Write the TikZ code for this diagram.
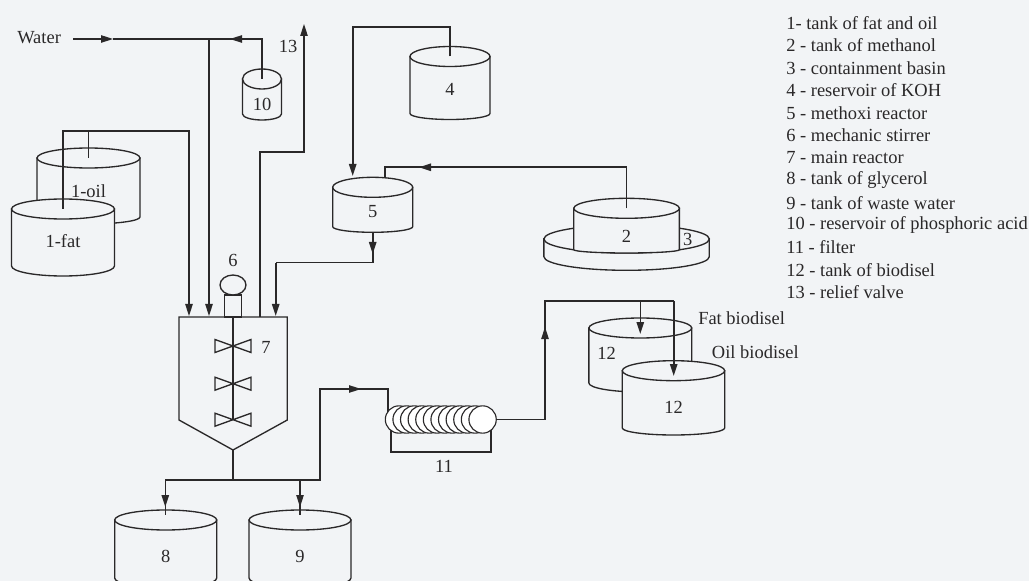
\documentclass[tikz,border=0pt]{standalone}
\usepackage{fontspec}
\setmainfont{Liberation Serif}
\usetikzlibrary{arrows.meta}
\definecolor{paper}{HTML}{F2F4F6}
\definecolor{ink}{HTML}{2A2829}
% name, centre x, top y, half width, side end y, sag, label y
\newcommand{\tank}[7]{
	\filldraw[tankline] ({#2-#4},#3) -- ({#2-#4},#5) arc[start angle=180,end angle=0,x radius=#4,y radius=#6] -- ({#2+#4},#3) -- cycle;
	\filldraw[tankline] (#2,#3) ellipse [x radius=#4,y radius=10];
	\coordinate (#1) at (#2,#3);
	\node[lab] (#1-lab) at (#2,#7) {};
}
\begin{document}
\begin{tikzpicture}[
	x=0.75pt, y=-0.75pt,
	lab/.style={ ink, font=\fontsize{13.85}{16}\selectfont, inner sep=0pt },
	pipe/.style={ ink, line width=1.2pt },
	flow/.style={ pipe, -{Triangle[length=9pt,width=5.5pt]} },
	tankline/.style={ draw=ink, fill=paper, line width=1pt },
	disc/.style={ circle, draw=ink, fill=white, line width=0.85pt, inner sep=0pt, minimum size=20.5pt }
]
	\useasboundingbox (0,0) rectangle (1029,581);
	\fill[paper] (0,0) rectangle (1029,581);

	% feed tanks
	\tank{oil}{88.5}{158}{51.5}{217}{7}{191}
	\node[lab] at (oil-lab) {1-oil};
	\tank{fat}{63}{209}{51.5}{266}{10}{241}
	\node[lab] at (fat-lab) {1-fat};
	\tank{koh}{450}{56.5}{40}{113.5}{6}{89}
	\node[lab] at (koh-lab) {4};
	\tank{acid}{262}{79}{19.5}{114}{6}{104}
	\node[lab] at (acid-lab) {10};
	\tank{metox}{372.7}{187.3}{40}{226.7}{5.6}{212}
	\node[lab] at (metox-lab) {5};

	% methanol in its basin
	\tank{basin}{626.6}{239}{82.7}{256.7}{13.6}{239}
	\filldraw[tankline] (626.6,239) ellipse [x radius=82.7,y radius=14];
	\node[lab] at (687.7,239) {3};
	\filldraw[tankline] (573.8,208.3) -- (573.8,249.7) arc[start angle=180,end angle=0,x radius=52.8,y radius=3.3] -- (679.4,208.3) -- cycle;
	\filldraw[tankline] (626.6,208.3) ellipse [x radius=52.8,y radius=10];
	\coordinate (meth) at (626.6,208.3);
	\node[lab] at (626.6,236) {2};

	% main reactor
	\draw[tankline] (179,317) -- (287.3,317) -- (287.3,420) -- (233,450) -- (179,420) -- cycle;
	\coordinate (reactor) at (233,450);
	\draw[tankline] (224.3,295) rectangle (241.7,317);
	\draw[tankline] (233,285) ellipse [x radius=13,y radius=10];
	\draw[pipe] (233,317) -- (233,420);
	\foreach \y in {346,383.7,419.7} {
		\draw[tankline] (215,\y-6.5) -- (251,\y+6.5) -- (251,\y-6.5) -- (215,\y+6.5) -- cycle;
	}
	\node[lab] at (233,260) {6};
	\node[lab] at (266,347) {7};
	\node[lab] at (288,46) {13};

	% lower tanks
	\tank{glyc}{165.7}{520}{51}{578}{10}{556}
	\node[lab] at (glyc-lab) {8};
	\tank{waste}{300}{520}{51}{578}{10}{556}
	\node[lab] at (waste-lab) {9};
	\tank{fatbio}{640.3}{328}{51.4}{383}{9}{353}
	\node[lab] at (606.7,353) {12};
	\tank{oilbio}{673.5}{370.7}{51.2}{428}{7}{407}
	\node[lab] at (oilbio-lab) {12};
	\node[lab,anchor=west] (fatname) at (698,318) {Fat biodisel};
	\node[lab,anchor=west] (oilname) at (711.7,352) {Oil biodisel};

	% water and acid
	\node[lab,anchor=west] (water) at (17,38) {Water};
	\coordinate (waterin) at (73,39);
	\coordinate (watertip) at (113,39);
	\coordinate (acidtip) at (230,39);
	\coordinate (waterdrop) at (209,39);
	\coordinate (acidtop) at (262,39);
	\draw[flow] (waterin) -- (watertip);
	\draw[pipe] (watertip) -- (acidtop) -- (acid);
	\draw[flow] (acidtop) -- (acidtip);
	\draw[flow] (waterdrop) -- (209,316);

	% fat and oil feed
	\coordinate (fatbend) at (63,131);
	\draw[flow] (fat) -- (fatbend) -- (189,131) -- (189,316);
	\draw[pipe] (oil) -- (oil |- fatbend);

	% relief valve
	\draw[flow] (260,317) -- (260,152) -- (304,152) -- (304,24);

	% methanol and KOH to methoxi reactor
	\coordinate (kohtip) at (352.7,176);
	\draw[flow] (koh) -- (450,27) -- (352.7,27) -- (kohtip);
	\coordinate (methtip) at (419,167.3);
	\draw[pipe] (meth) -- (626.6,167.3) -- (385,167.3) -- (385,178);
	\draw[flow] (626.6,167.3) -- (methtip);

	% methoxi reactor to main reactor
	\coordinate (metoxout) at (372.7,232.3);
	\coordinate (metoxtip) at (372.7,254);
	\draw[pipe] (metoxout) -- (372.7,262.7) -- (275.7,262.7);
	\draw[flow] (metoxout) -- (metoxtip);
	\draw[flow] (275.7,262.7) -- (275.7,316);

	% reactor outlet
	\coordinate (outlet) at (233,480);
	\draw[pipe] (reactor) -- (outlet);
	\draw[pipe] (165.3,480) -- (320,480) -- (320,389) -- (387.7,389) -- (387.7,412);
	\draw[flow] (320,389) -- (361,389);
	\draw[pipe] (165.3,480) -- (165.3,515);
	\draw[flow] (165.3,480) -- (165.3,507);
	\draw[pipe] (300,480) -- (300,515);
	\draw[flow] (300,480) -- (300,507);

	% filter
	\draw[pipe] (391,428) -- (391,452) -- (490.7,452) -- (490.7,428);
	\foreach \i in {0,...,11} {
		\node[disc] (disc\i) at ({399+7.6*\i},419.5) {};
	}
	\node[lab] at (444,466) {11};

	% filter to biodiesel tanks
	\draw[pipe] (disc11.east) -- (545,419.5) -- (545,301) -- (673.7,301);
	\draw[flow] (545,419.5) -- (545,327);
	\draw[flow] (640.3,301) -- (640.3,334);
	\draw[flow] (673.7,301) -- (673.7,376);

	% key
	\foreach \i/\txt in {1/{1- tank of fat and oil},2/{2 - tank of methanol},3/{3 - containment basin},4/{4 - reservoir of KOH},5/{5 - methoxi reactor},6/{6 - mechanic stirrer},7/{7 - main reactor},8/{8 - tank of glycerol},9/{9 - tank of waste water},10/{10 - reservoir of phosphoric acid},11/{11 - filter},12/{12 - tank of biodisel},13/{13 - relief valve}} {
		\node[lab,anchor=west] (key\i) at (786,{23+22.45*(\i-1)}) {\txt};
	}
\end{tikzpicture}
\end{document}
